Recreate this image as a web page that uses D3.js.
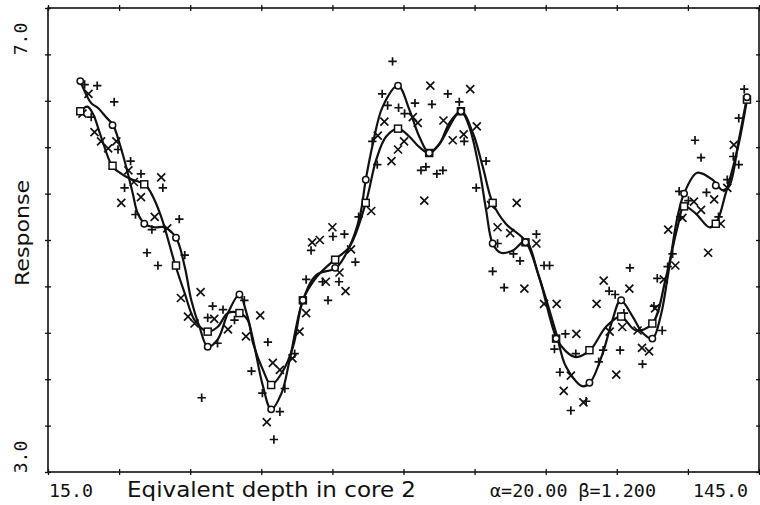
<!DOCTYPE html>
<html>
<head>
<meta charset="utf-8">
<script src="https://cdn.jsdelivr.net/npm/d3@7"></script>
<style>
  body { margin: 0; background: #fff; }
  svg { display: block; }
  .frame { fill: none; stroke: #111; stroke-width: 1.6; }
  .tick line { stroke: #111; stroke-width: 1.3; }
  .curve { fill: none; stroke: #111; stroke-width: 2.2; }
  .plus, .cross { stroke: #111; stroke-width: 1.7; fill: none; }
  .knot { fill: #fff; stroke: #111; stroke-width: 1.5; }
  text { fill: #111; }
</style>
</head>
<body>
<div class="container"></div>
<script>
"use strict";

var width = 760;
var height = 505;

// axis range and tick positions (depth 15..145, response 3..7)
var xTicks = [15, 28, 41, 54, 67, 80, 93, 106, 119, 132, 145];
var yTicks = [3.0, 3.4, 3.8, 4.2, 4.6, 5.0, 5.4, 5.8, 6.2, 6.6, 7.0];

// "+" observations
var plusPoints = [
    [21.7, 6.34], [24.0, 6.33], [27.1, 6.19], [22.9, 6.06], [27.8, 5.78], [30.1, 5.68],
    [32.0, 5.57], [29.0, 5.45], [36.0, 5.45], [31.0, 5.22], [39.0, 5.18], [34.0, 5.09],
    [33.1, 4.89], [35.1, 4.78], [40.0, 4.87], [45.1, 4.43], [44.2, 4.33], [43.1, 3.64],
    [47.0, 4.40], [49.1, 4.31], [46.0, 4.11], [50.9, 4.48],
    [78.0, 6.54], [76.1, 6.26], [82.1, 6.18], [85.2, 6.17], [79.1, 6.14], [80.2, 6.09],
    [77.1, 6.16], [74.3, 5.85], [75.2, 5.65], [83.2, 5.60], [84.1, 5.63], [86.1, 5.57],
    [71.8, 5.20], [67.1, 5.03], [69.2, 5.05], [63.1, 4.91], [71.2, 4.81], [62.2, 4.66],
    [65.2, 4.64], [68.2, 4.64], [66.2, 4.48], [55.2, 4.12], [52.2, 3.87], [54.2, 3.68],
    [58.3, 3.72], [57.4, 3.52], [56.3, 3.28], [60.1, 4.02],
    [88.1, 6.26], [90.2, 6.19], [91.1, 5.85], [87.2, 5.60], [93.3, 5.45], [95.1, 5.68],
    [96.3, 4.73], [97.2, 4.97], [98.4, 4.59], [101.3, 4.82], [100.1, 4.88], [104.3, 5.05],
    [105.7, 4.78], [106.7, 4.78], [107.6, 4.06], [109.6, 4.19], [108.6, 3.86], [111.5, 4.02],
    [110.6, 3.53], [113.4, 3.61], [115.7, 3.95], [116.5, 4.05], [117.6, 4.56], [118.7, 4.53],
    [121.4, 4.76], [119.6, 4.05], [120.3, 4.37],
    [142.3, 6.30], [133.3, 5.86], [134.4, 5.71], [141.3, 5.65], [140.3, 5.72], [141.3, 6.05],
    [139.2, 5.52], [135.4, 5.41], [130.4, 5.42], [132.1, 5.34], [130.6, 5.20], [137.6, 5.20],
    [129.2, 4.88], [128.3, 4.77], [125.8, 4.43], [127.3, 4.22], [123.7, 3.93], [126.4, 4.67]
];

// "x" observations
var crossPoints = [
    [21.3, 6.09], [22.4, 6.26], [23.5, 5.93], [24.7, 5.85], [26.0, 5.79], [27.5, 5.85],
    [29.7, 5.60], [30.7, 5.50], [35.7, 5.54], [32.0, 5.37], [28.4, 5.32], [34.5, 5.20],
    [36.8, 5.10], [39.3, 4.50], [42.9, 4.55], [40.6, 4.34], [41.8, 4.28], [45.4, 4.32],
    [47.9, 4.23], [51.2, 4.17],
    [84.9, 6.33], [81.7, 6.06], [82.6, 6.01], [76.5, 6.02], [75.3, 5.90], [80.1, 5.85],
    [79.0, 5.78], [77.8, 5.68], [83.8, 5.34], [74.1, 5.25], [67.0, 5.11], [64.7, 5.00],
    [63.3, 4.98], [70.4, 4.92], [68.3, 4.72], [65.8, 4.64], [69.4, 4.56], [62.2, 4.37],
    [61.0, 4.21], [53.8, 4.35], [56.1, 3.94], [57.4, 3.88], [55.0, 3.43], [59.7, 3.98],
    [92.2, 6.30], [87.3, 6.03], [89.0, 5.86], [91.0, 5.91], [93.4, 5.98], [96.0, 5.30],
    [100.7, 5.32], [97.2, 5.11], [99.5, 5.06], [104.3, 4.97], [102.1, 4.58], [105.7, 4.45],
    [108.0, 4.45], [111.6, 4.19], [110.6, 3.83], [109.3, 3.70], [112.9, 3.60], [115.3, 4.45],
    [116.6, 4.65], [121.3, 4.58], [120.0, 4.25], [118.9, 3.84], [117.7, 4.21],
    [140.4, 5.82], [139.2, 5.45], [136.8, 5.35], [133.1, 5.33], [134.4, 5.26], [131.0, 5.19],
    [128.4, 5.09], [138.0, 5.14], [135.7, 4.89], [129.7, 4.78], [127.6, 4.66], [122.8, 4.22],
    [123.6, 4.07], [124.9, 4.04], [126.0, 4.41]
];

// smoothed fit with small alpha (the wiggly one, circles)
var circleCurve = [
    [20.9, 6.37], [22.9, 6.18], [24.1, 6.14], [25.6, 6.06], [26.9, 5.99], [28.1, 5.83],
    [29.3, 5.63], [30.5, 5.40], [31.4, 5.23], [32.7, 5.14], [34.5, 5.11], [36.3, 5.11],
    [38.4, 5.02], [40.0, 4.77], [41.2, 4.48], [42.7, 4.25], [44.2, 4.08], [46.0, 4.14],
    [47.9, 4.37], [50.0, 4.53], [51.3, 4.37], [52.5, 4.14], [54.3, 3.74], [55.8, 3.54],
    [57.7, 3.68], [59.2, 3.97], [61.6, 4.48], [64.1, 4.70], [67.7, 4.76], [70.1, 4.94],
    [72.0, 5.20], [73.1, 5.52], [74.4, 5.83], [76.2, 6.15], [79.0, 6.33], [81.1, 6.12],
    [82.9, 5.89], [84.7, 5.75], [86.6, 5.83], [88.4, 6.01], [90.5, 6.11], [92.0, 5.98],
    [93.9, 5.60], [95.1, 5.26], [96.3, 4.97], [97.8, 4.89], [100.0, 4.91], [102.3, 4.99],
    [104.8, 4.68], [107.9, 4.20], [109.7, 3.91], [112.7, 3.74], [114.1, 3.77], [116.4, 4.02],
    [118.2, 4.31], [119.7, 4.48], [121.9, 4.34], [123.7, 4.20], [125.5, 4.15], [127.0, 4.34],
    [128.3, 4.68], [130.1, 5.20], [131.3, 5.40], [133.7, 5.58], [136.5, 5.52], [138.3, 5.43],
    [139.5, 5.46], [141.3, 5.86], [142.8, 6.23]
];

// smoother fit (squares)
var squareCurve = [
    [20.9, 6.11], [22.2, 6.15], [23.2, 6.09], [24.7, 5.89], [26.7, 5.64], [28.1, 5.58],
    [29.9, 5.53], [32.7, 5.48], [33.9, 5.40], [35.7, 5.20], [38.3, 4.78], [40.0, 4.54],
    [41.8, 4.31], [44.2, 4.21], [46.0, 4.25], [47.9, 4.37], [50.0, 4.37], [51.5, 4.31],
    [52.5, 4.11], [54.3, 3.88], [55.8, 3.75], [57.7, 3.85], [59.8, 4.08], [61.6, 4.48],
    [64.1, 4.68], [67.4, 4.83], [70.1, 4.94], [73.1, 5.32], [75.0, 5.69], [76.8, 5.89],
    [79.0, 5.96], [81.1, 5.89], [82.9, 5.80], [84.7, 5.75], [86.6, 5.83], [90.5, 6.11],
    [92.7, 5.92], [94.5, 5.63], [96.3, 5.32], [98.7, 5.14], [102.3, 4.99], [104.8, 4.68],
    [108.0, 4.15], [109.7, 4.04], [111.5, 3.99], [114.1, 4.05], [117.0, 4.25], [119.7, 4.34],
    [122.5, 4.22], [125.5, 4.28], [128.0, 4.68], [130.1, 5.11], [131.3, 5.29], [133.4, 5.23],
    [135.9, 5.11], [137.1, 5.14], [138.9, 5.40], [141.3, 5.83], [142.8, 6.21]
];

// knots where the fitted values are marked
var knotX = [20.9, 26.8, 32.6, 38.4, 44.2, 50.0, 55.8, 61.6, 67.5, 73.1, 79.0,
             84.7, 90.5, 96.3, 102.3, 107.9, 114.0, 119.8, 125.5, 131.3, 137.1, 142.8];
var knotCircleY = [6.37, 5.99, 5.14, 5.02, 4.08, 4.53, 3.54, 4.48, 4.76, 5.52, 6.33,
                   5.75, 6.11, 4.97, 4.98, 4.15, 3.77, 4.48, 4.15, 5.40, 5.47, 6.23];
var knotSquareY = [6.11, 5.64, 5.48, 4.78, 4.21, 4.37, 3.75, 4.48, 4.83, 5.32, 5.96,
                   5.75, 6.11, 5.32, 4.98, 4.15, 4.05, 4.34, 4.28, 5.29, 5.14, 6.21];

var x = d3.scaleLinear().domain([15, 145]).range([48, 759]);
var y = d3.scaleLinear().domain([3, 7]).range([472, 8]);

var svg = d3.select(".container").append("svg")
    .attr("width", width)
    .attr("height", height);

// frame
svg.append("rect")
    .attr("class", "frame")
    .attr("x", x(15)).attr("y", y(7))
    .attr("width", x(145) - x(15))
    .attr("height", y(3) - y(7));

// ticks cross the frame lines, so shift each axis half a tick outward
var tk = 6;
function noDomain(g) { g.select(".domain").remove(); g.selectAll("text").remove(); }

svg.append("g").attr("transform", "translate(0," + (y(3) - tk / 2) + ")")
    .call(d3.axisBottom(x).tickValues(xTicks).tickSize(tk)).call(noDomain);
svg.append("g").attr("transform", "translate(0," + (y(7) + tk / 2) + ")")
    .call(d3.axisTop(x).tickValues(xTicks).tickSize(tk)).call(noDomain);
svg.append("g").attr("transform", "translate(" + (x(15) + tk / 2) + ",0)")
    .call(d3.axisLeft(y).tickValues(yTicks).tickSize(tk)).call(noDomain);
svg.append("g").attr("transform", "translate(" + (x(145) - tk / 2) + ",0)")
    .call(d3.axisRight(y).tickValues(yTicks).tickSize(tk)).call(noDomain);

// fitted curves
var line = d3.line()
    .x(function(d) { return x(d[0]); })
    .y(function(d) { return y(d[1]); })
    .curve(d3.curveCatmullRom.alpha(0.5));

svg.append("path").datum(squareCurve).attr("class", "curve").attr("d", line);
svg.append("path").datum(circleCurve).attr("class", "curve").attr("d", line);

// observations
var s = 4.2;
svg.selectAll(".plus")
    .data(plusPoints)
    .enter().append("path")
    .attr("class", "plus")
    .attr("d", function(d) {
        var cx = x(d[0]), cy = y(d[1]);
        return "M" + (cx - s) + "," + cy + "H" + (cx + s) + "M" + cx + "," + (cy - s) + "V" + (cy + s);
    });

var c = 4;
svg.selectAll(".cross")
    .data(crossPoints)
    .enter().append("path")
    .attr("class", "cross")
    .attr("d", function(d) {
        var cx = x(d[0]), cy = y(d[1]);
        return "M" + (cx - c) + "," + (cy - c) + "L" + (cx + c) + "," + (cy + c) +
               "M" + (cx - c) + "," + (cy + c) + "L" + (cx + c) + "," + (cy - c);
    });

// knot markers
svg.selectAll(".sq")
    .data(knotX)
    .enter().append("rect")
    .attr("class", "knot")
    .attr("x", function(d) { return x(d) - 3.5; })
    .attr("y", function(d, i) { return y(knotSquareY[i]) - 3.5; })
    .attr("width", 7).attr("height", 7);

svg.selectAll(".ci")
    .data(knotX)
    .enter().append("circle")
    .attr("class", "knot")
    .attr("cx", function(d) { return x(d); })
    .attr("cy", function(d, i) { return y(knotCircleY[i]); })
    .attr("r", 3.2);

// labels
var mono = "'DejaVu Sans Mono', monospace";
var sans = "'DejaVu Sans', sans-serif";

svg.append("text")
    .attr("transform", "translate(27," + (y(7) + 31) + ") rotate(-90)")
    .attr("text-anchor", "middle")
    .style("font-family", mono).style("font-size", "18px")
    .text("7.0");
svg.append("text")
    .attr("transform", "translate(27," + (y(3) - 15) + ") rotate(-90)")
    .attr("text-anchor", "middle")
    .style("font-family", mono).style("font-size", "18px")
    .text("3.0");
svg.append("text")
    .attr("transform", "translate(29,233) rotate(-90)")
    .attr("text-anchor", "middle")
    .attr("textLength", 106).attr("lengthAdjust", "spacingAndGlyphs")
    .style("font-family", sans).style("font-size", "20px")
    .text("Response");

svg.append("text")
    .attr("x", 49).attr("y", 497)
    .attr("textLength", 44).attr("lengthAdjust", "spacingAndGlyphs")
    .style("font-family", mono).style("font-size", "18px")
    .text("15.0");
svg.append("text")
    .attr("x", 127).attr("y", 497)
    .attr("textLength", 289).attr("lengthAdjust", "spacingAndGlyphs")
    .style("font-family", sans).style("font-size", "21px")
    .text("Eqivalent depth in core 2");
svg.append("text")
    .attr("x", 490).attr("y", 497)
    .attr("textLength", 166).attr("lengthAdjust", "spacingAndGlyphs")
    .style("font-family", mono).style("font-size", "18px")
    .text("α=20.00 β=1.200");
svg.append("text")
    .attr("x", 693).attr("y", 497)
    .attr("textLength", 55).attr("lengthAdjust", "spacingAndGlyphs")
    .style("font-family", mono).style("font-size", "18px")
    .text("145.0");
</script>
</body>
</html>
